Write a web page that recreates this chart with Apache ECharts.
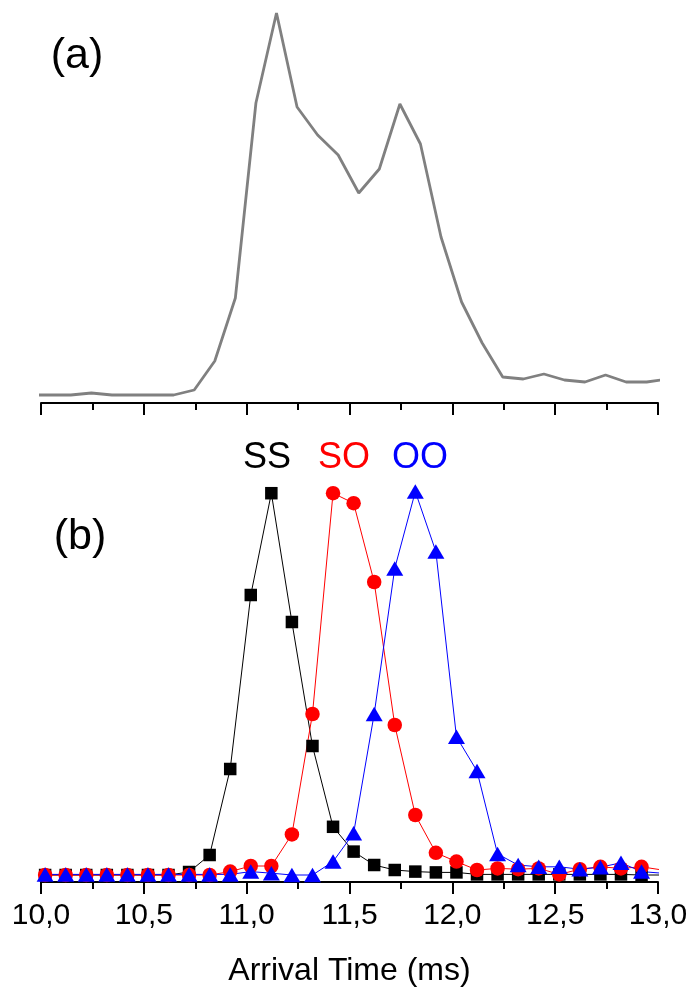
<!DOCTYPE html>
<html>
<head>
<meta charset="utf-8">
<script src="https://cdn.jsdelivr.net/npm/echarts@6/dist/echarts.min.js"></script>
<style>
  html, body { margin: 0; padding: 0; background: #ffffff; }
  #chart { width: 693px; height: 988px; }
</style>
</head>
<body>
<div id="chart"></div>
<script>
// (a) total arrival-time signal
const timeTop = [9.945, 10.045, 10.145, 10.245, 10.345, 10.445, 10.545, 10.645, 10.745, 10.845,
  10.945, 11.045, 11.145, 11.245, 11.345, 11.445, 11.545, 11.645, 11.745, 11.845,
  11.945, 12.045, 12.145, 12.245, 12.345, 12.445, 12.545, 12.645, 12.745, 12.845,
  12.945, 13.045];
const totalSignal = [2.0, 2.0, 2.0, 2.5, 2.0, 2.0, 2.0, 2.0, 3.25, 10.5,
  26.25, 75, 97.5, 74, 67, 62, 52.5, 58.5, 74.75, 64.75,
  41.5, 25.25, 15, 6.5, 6, 7.25, 5.75, 5.25, 7, 5.25,
  5.25, 6];

// (b) arrival-time distributions of the SS, SO and OO components
const timeBottom = [10.02, 10.12, 10.22, 10.32, 10.42, 10.52, 10.62, 10.72, 10.82, 10.92,
  11.02, 11.12, 11.22, 11.32, 11.42, 11.52, 11.62, 11.72, 11.82, 11.92,
  12.02, 12.12, 12.22, 12.32, 12.42, 12.52, 12.62, 12.72, 12.82, 12.92,
  13.02];
const ss = [1.75, 1.75, 1.75, 1.75, 1.75, 1.75, 1.75, 2.5, 6.75, 28.25,
  71.75, 97.2, 65, 34, 13.8, 7.6, 4.25, 3, 2.6, 2.4,
  2.4, 1.9, 1.9, 1.9, 1.9, 1.9, 1.9, 1.9, 1.9, 1.75,
  1.75];
const so = [1.75, 1.75, 1.75, 1.75, 1.75, 1.75, 1.75, 1.75, 1.75, 2.6,
  4, 4, 11.9, 42, 97.2, 94.7, 75, 39.25, 16.75, 7.3,
  5.1, 3, 3.4, 3.2, 3.4, 1.9, 3.2, 3.8, 3.4, 3.8,
  3];
const oo = [1.9, 1.9, 1.9, 1.9, 1.9, 1.9, 1.9, 1.9, 1.9, 1.9,
  2.6, 2.2, 1.75, 1.75, 5.1, 12.2, 42, 78.4, 97.6, 82.6,
  36.3, 27.75, 7, 4.25, 3.8, 3.8, 3.2, 3.7, 4.8, 2.6,
  2.2];

const xMin = 10, xMax = 13, xStep = 0.5;
const axisTitle = 'Arrival Time (ms)';

const FONT = '"Liberation Sans", Arial, Helvetica, sans-serif';

function pairs(xs, ys) { return xs.map((x, i) => [x, ys[i]]); }

function timeAxis(gridIndex, showLabels) {
  return {
    type: 'value', gridIndex: gridIndex,
    min: xMin, max: xMax, interval: xStep,
    axisLine: { show: true, onZero: false, lineStyle: { color: '#000', width: 2 } },
    axisTick: { show: true, inside: false, length: 12, lineStyle: { color: '#000', width: 2 } },
    minorTick: { show: true, splitNumber: 2, length: 7, lineStyle: { color: '#000', width: 2 } },
    splitLine: { show: false },
    minorSplitLine: { show: false },
    axisLabel: {
      show: showLabels, margin: 19,
      color: '#000', fontSize: 30, fontFamily: FONT,
      formatter: v => v.toFixed(1).replace('.', ',')
    },
    name: showLabels ? axisTitle : '',
    nameLocation: 'middle', nameGap: 73,
    nameTextStyle: { color: '#000', fontSize: 32, fontFamily: FONT }
  };
}

function hiddenY(gridIndex) {
  return { type: 'value', gridIndex: gridIndex, min: 0, max: 100, show: false };
}

function markerSeries(name, ys, color, symbol, size) {
  return {
    name: name, type: 'line', xAxisIndex: 1, yAxisIndex: 1,
    data: pairs(timeBottom, ys),
    symbol: symbol, symbolSize: size, showAllSymbol: true,
    clip: true,
    lineStyle: { color: color, width: 1 },
    itemStyle: { color: color, borderWidth: 0 },
    animation: false
  };
}

const chart = echarts.init(document.getElementById('chart'), null, { renderer: 'canvas' });
chart.setOption({
  backgroundColor: '#ffffff',
  animation: false,
  grid: [
    { left: 41, right: 35, top: 3, height: 400 },
    { left: 41, right: 35, top: 482, height: 400 }
  ],
  xAxis: [timeAxis(0, false), timeAxis(1, true)],
  yAxis: [hiddenY(0), hiddenY(1)],
  series: [
    {
      name: 'total', type: 'line', xAxisIndex: 0, yAxisIndex: 0,
      data: pairs(timeTop, totalSignal),
      symbol: 'none', clip: true,
      lineStyle: { color: '#808080', width: 2.8 }
    },
    markerSeries('SS', ss, '#000000', 'rect', 12.5),
    markerSeries('SO', so, '#ff0000', 'circle', 14.5),
    markerSeries('OO', oo, '#0000ff', 'triangle', [17, 14.5])
  ],
  graphic: [
    { type: 'text', style: { text: '(a)', x: 77, y: 56, align: 'center', verticalAlign: 'middle', font: '43px ' + FONT, fill: '#000' } },
    { type: 'text', style: { text: '(b)', x: 80, y: 537, align: 'center', verticalAlign: 'middle', font: '43px ' + FONT, fill: '#000' } },
    { type: 'text', style: { text: 'SS', x: 267, y: 458, align: 'center', verticalAlign: 'middle', font: '36px ' + FONT, fill: '#000000' } },
    { type: 'text', style: { text: 'SO', x: 344, y: 458, align: 'center', verticalAlign: 'middle', font: '36px ' + FONT, fill: '#ff0000' } },
    { type: 'text', style: { text: 'OO', x: 420, y: 458, align: 'center', verticalAlign: 'middle', font: '36px ' + FONT, fill: '#0000ff' } }
  ]
});
</script>
</body>
</html>
